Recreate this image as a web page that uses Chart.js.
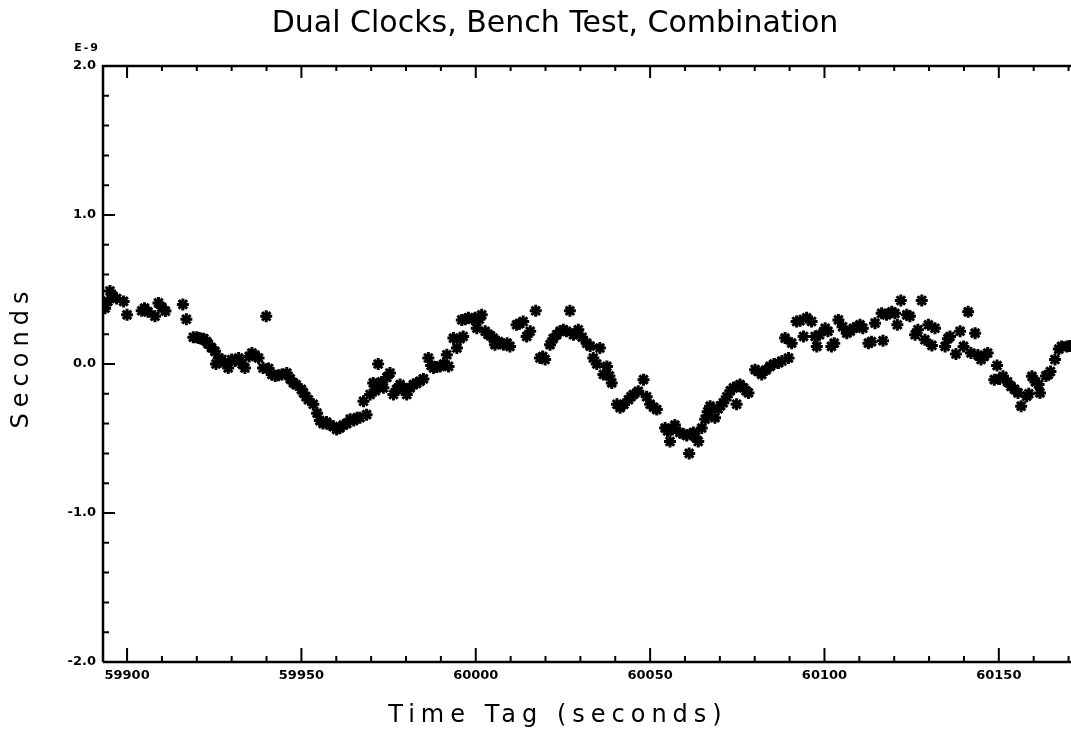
<!DOCTYPE html>
<html><head><meta charset="utf-8">
<script src="https://cdn.jsdelivr.net/npm/chart.js@4.4.1/dist/chart.umd.min.js"></script>
<style>html,body{margin:0;padding:0;background:#fff}#wrap{width:1071px;height:732px;position:relative}</style>
</head><body><div id="wrap"><canvas id="c" width="1071" height="732"></canvas></div>
<script>
const chartTitle = 'Dual Clocks, Bench Test, Combination';
const xAxisTitle = 'Time Tag (seconds)';
const yAxisTitle = 'Seconds';
const yExponent = 'E-9';
const xTickValues = [59900, 59950, 60000, 60050, 60100, 60150];
const yTickValues = [-2, -1, 0, 1, 2];
const timeTags = [
59893.7,59894.5,59895.1,59896.0,59897.0,59899.0,59900.0,59904.2,59905.0,59906.0,59908.0,59909.0,59910.0,59911.0,59916.0,59917.0,
59919.0,59920.0,59920.5,59921.2,59922.0,59922.8,59923.3,59924.2,59925.2,59925.5,59926.3,59927.2,59928.0,59929.0,59930.0,59931.0,
59932.0,59933.0,59933.8,59935.0,59935.8,59936.7,59937.7,59939.0,59939.9,59940.6,59941.5,59942.5,59943.4,59944.4,59945.8,59946.8,
59947.7,59948.5,59950.0,59950.6,59951.3,59952.0,59953.4,59954.5,59955.3,59956.2,59957.2,59958.2,59959.2,59960.1,59961.0,59962.0,
59963.0,59964.0,59965.0,59966.0,59966.8,59967.8,59968.7,59969.7,59970.6,59971.2,59972.0,59973.0,59973.5,59974.5,59975.4,59976.4,
59977.3,59978.3,59979.2,59980.2,59981.2,59982.1,59983.0,59984.0,59985.0,59986.4,59987.2,59987.9,59988.8,59989.8,59990.8,59991.7,
59992.2,59993.6,59994.6,59995.5,59996.0,59996.4,59997.0,59997.9,59999.0,59999.8,60000.3,60001.0,60001.7,60002.7,60003.5,60004.2,
60005.0,60005.5,60006.5,60007.9,60009.0,60009.8,60011.7,60012.5,60013.6,60014.6,60015.6,60017.2,60018.4,60019.2,60019.9,60021.3,
60022.2,60023.2,60024.2,60025.1,60026.0,60027.0,60028.0,60028.5,60029.4,60030.5,60031.8,60032.8,60033.7,60034.7,60035.6,60036.6,
60037.6,60038.3,60039.0,60040.5,60041.4,60042.5,60043.8,60044.5,60045.2,60046.6,60048.1,60049.0,60050.0,60051.0,60051.9,60054.3,
60055.0,60055.7,60056.4,60057.1,60058.5,60059.5,60060.5,60061.2,60061.6,60062.4,60063.0,60063.8,60064.8,60065.8,60066.5,60067.2,
60068.6,60069.5,60070.2,60071.0,60072.0,60073.0,60073.9,60074.8,60075.0,60075.8,60076.8,60077.5,60078.2,60080.1,60081.0,60082.0,
60083.2,60084.4,60085.5,60086.8,60087.8,60088.7,60089.7,60090.6,60092.0,60093.0,60094.0,60094.9,60096.3,60097.3,60097.8,60098.6,
60100.2,60101.0,60102.0,60102.8,60104.0,60105.2,60106.4,60107.4,60108.3,60109.3,60110.2,60111.0,60112.6,60113.5,60114.5,60116.4,
60116.8,60117.8,60119.3,60120.2,60120.9,60121.9,60123.6,60124.5,60126.0,60126.8,60127.9,60128.8,60129.8,60130.8,60131.7,60134.6,
60135.4,60136.0,60137.7,60138.9,60139.9,60141.2,60142.0,60143.2,60144.0,60144.9,60145.8,60146.8,60148.7,60149.5,60150.2,60151.2,
60152.5,60153.5,60154.5,60155.5,60156.4,60158.0,60158.6,60159.5,60160.5,60161.4,60161.8,60163.5,60164.2,60164.8,60166.1,60167.2,
60168.0,60169.5,60170.3
];
const offsets = [
0.375,0.42,0.49,0.455,0.44,0.42,0.33,0.357,0.375,0.35,0.32,0.41,0.38,0.355,0.40,0.30,
0.18,0.18,0.175,0.17,0.17,0.15,0.134,0.11,0.085,0.0,0.04,0.03,0.01,-0.027,0.03,0.02,
0.04,0.0,-0.027,0.05,0.074,0.06,0.04,-0.027,0.32,-0.03,-0.07,-0.08,-0.075,-0.07,-0.06,-0.10,
-0.127,-0.14,-0.17,-0.194,-0.22,-0.24,-0.27,-0.33,-0.38,-0.40,-0.39,-0.41,-0.42,-0.44,-0.43,-0.41,
-0.40,-0.37,-0.38,-0.36,-0.36,-0.25,-0.34,-0.205,-0.127,-0.18,0.0,-0.12,-0.16,-0.09,-0.06,-0.205,
-0.17,-0.138,-0.16,-0.205,-0.16,-0.138,-0.13,-0.116,-0.10,0.04,-0.01,-0.027,-0.02,-0.016,0.0,0.062,
-0.016,0.174,0.107,0.17,0.296,0.185,0.30,0.31,0.30,0.31,0.24,0.30,0.33,0.22,0.20,0.19,
0.174,0.13,0.15,0.13,0.14,0.118,0.263,0.27,0.285,0.185,0.22,0.357,0.04,0.05,0.03,0.13,
0.17,0.196,0.22,0.23,0.22,0.357,0.196,0.207,0.23,0.18,0.14,0.12,0.04,0.0,0.107,-0.07,
-0.016,-0.08,-0.127,-0.27,-0.294,-0.27,-0.24,-0.22,-0.205,-0.183,-0.105,-0.22,-0.27,-0.29,-0.306,-0.43,
-0.45,-0.52,-0.44,-0.41,-0.46,-0.47,-0.48,-0.60,-0.47,-0.46,-0.49,-0.52,-0.43,-0.37,-0.32,-0.283,
-0.36,-0.30,-0.28,-0.26,-0.22,-0.18,-0.16,-0.27,-0.15,-0.138,-0.16,-0.18,-0.194,-0.038,-0.05,-0.07,
-0.04,-0.016,0.0,0.007,0.02,0.174,0.04,0.14,0.285,0.29,0.185,0.31,0.285,0.185,0.118,0.196,
0.24,0.22,0.118,0.14,0.296,0.25,0.207,0.22,0.24,0.25,0.263,0.24,0.14,0.15,0.274,0.34,
0.156,0.33,0.35,0.34,0.263,0.426,0.33,0.32,0.196,0.23,0.426,0.163,0.263,0.125,0.24,0.118,
0.17,0.185,0.067,0.22,0.118,0.35,0.074,0.207,0.06,0.03,0.05,0.074,-0.105,-0.01,-0.10,-0.083,
-0.12,-0.15,-0.17,-0.194,-0.283,-0.216,-0.20,-0.083,-0.12,-0.138,-0.194,-0.08,-0.07,-0.05,0.03,0.10,
0.118,0.118,0.12
];

const points = timeTags.map((t, i) => ({x: t, y: offsets[i]}));
const tickFont = {family: 'DejaVu Sans', size: 13, weight: 'bold'};

const framePlugin = {
  id: 'frame',
  afterDraw(chart) {
    const ctx = chart.ctx, xs = chart.scales.x, ys = chart.scales.y;
    const a = chart.chartArea;
    ctx.save();
    ctx.strokeStyle = '#000';
    ctx.lineWidth = 2.5;
    ctx.beginPath();
    ctx.moveTo(a.left, a.bottom); ctx.lineTo(a.left, a.top); ctx.lineTo(a.right, a.top);
    ctx.moveTo(a.left, a.bottom); ctx.lineTo(a.right, a.bottom);
    ctx.stroke();
    ctx.lineWidth = 2;
    ctx.beginPath();
    for (let k = -10; k <= 10; k++) {
      const v = k / 5, py = ys.getPixelForValue(v);
      const len = (k % 5 === 0) ? 12 : 6;
      ctx.moveTo(a.left, py); ctx.lineTo(a.left + len, py);
    }
    for (let v = 59900; v <= xs.max; v += 10) {
      const px = xs.getPixelForValue(v);
      const major = (v - 59900) % 50 === 0;
      ctx.moveTo(px, a.bottom); ctx.lineTo(px, a.bottom - (major ? 14 : 6));
      ctx.moveTo(px, a.top); ctx.lineTo(px, a.top + (major ? 12 : 5));
    }
    ctx.stroke();
    ctx.fillStyle = '#000';
    ctx.textAlign = 'center';
    ctx.textBaseline = 'middle';
    ctx.font = 'normal 30px "DejaVu Sans"';
    ctx.fillText(chartTitle, 555, 24);
    ctx.font = 'normal 24px "DejaVu Sans"';
    ctx.letterSpacing = '6px';
    ctx.fillText(xAxisTitle, 558, 716);
    ctx.save();
    ctx.textBaseline = 'alphabetic';
    ctx.translate(28, 360);
    ctx.rotate(-Math.PI / 2);
    ctx.fillText(yAxisTitle, 3, 0);
    ctx.restore();
    ctx.letterSpacing = '2px';
    ctx.font = 'bold 11px "DejaVu Sans"';
    ctx.fillText(yExponent, 87, 48);
    ctx.restore();
  }
};

new Chart(document.getElementById('c'), {
  type: 'scatter',
  data: {datasets: [{
    data: points,
    pointStyle: 'star',
    pointRadius: 6,
    pointBorderWidth: 3,
    borderColor: '#000',
    backgroundColor: '#000',
    showLine: false
  }]},
  options: {
    responsive: false,
    animation: false,
    layout: {autoPadding: false, padding: {top: 66, left: 0, right: 0, bottom: 0}},
    plugins: {legend: {display: false}, tooltip: {enabled: false}, title: {display: false}},
    scales: {
      x: {
        type: 'linear', min: 59893.1, max: 60170.7,
        grid: {display: false, drawTicks: false},
        border: {display: false},
        ticks: {font: tickFont, color: '#000', padding: 6, maxRotation: 0, autoSkip: false,
                callback: v => String(v)},
        afterBuildTicks: s => { s.ticks = xTickValues.map(v => ({value: v})); },
        afterFit: s => { s.height = 70; s.paddingRight = 0; s.paddingLeft = 0; }
      },
      y: {
        type: 'linear', min: -2, max: 2,
        grid: {display: false, drawTicks: false},
        border: {display: false},
        ticks: {font: tickFont, color: '#000', padding: 7, autoSkip: false,
                callback: v => Number(v).toFixed(1)},
        afterBuildTicks: s => { s.ticks = yTickValues.map(v => ({value: v})); },
        afterFit: s => { s.width = 103; s.paddingTop = 0; s.paddingBottom = 0; }
      }
    }
  },
  plugins: [framePlugin]
});
</script></body></html>
